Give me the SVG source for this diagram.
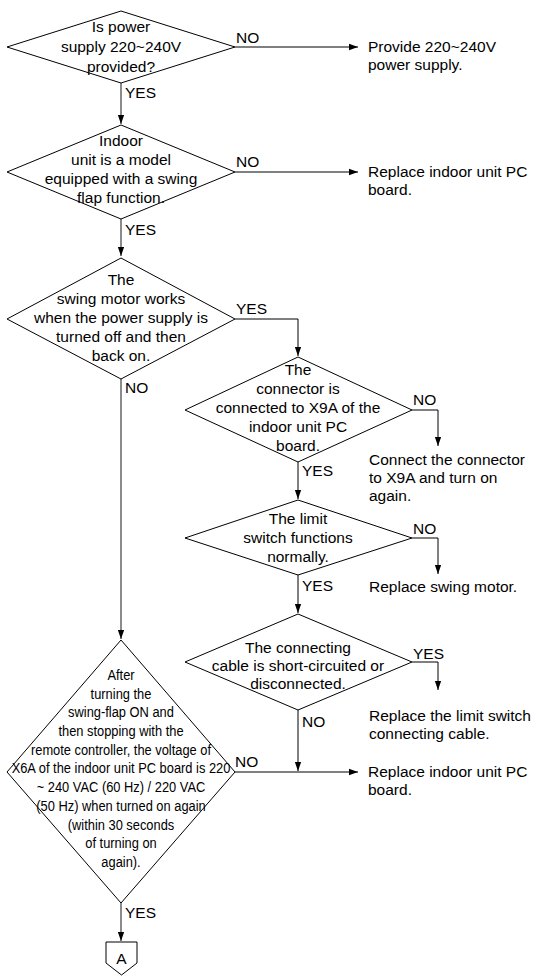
<svg xmlns="http://www.w3.org/2000/svg" width="538" height="976" viewBox="0 0 538 976">
<defs>
<marker id="ah" viewBox="0 0 10 10" refX="10" refY="5" markerWidth="9" markerHeight="9" markerUnits="userSpaceOnUse" orient="auto">
<path d="M0,1.5 L10,5 L0,8.5 Z" fill="#000"/>
</marker>
</defs>
<style>
text{font-family:"Liberation Sans",Arial,Helvetica,sans-serif;font-size:15.5px;fill:#000}
.c{text-anchor:middle}
.d{fill:#fff;stroke:#000;stroke-width:1}
.l{fill:none;stroke:#000;stroke-width:1}
.g{fill:none;stroke:#6e6e6e;stroke-width:1.6}
</style>
<rect width="538" height="976" fill="#fff"/>
<g id="connectors">
<path class="g" d="M121,83 V124" marker-end="url(#ah)"/>
<path class="l" d="M235,47 H358" marker-end="url(#ah)"/>
<path class="g" d="M121,219 V256" marker-end="url(#ah)"/>
<path class="l" d="M235,172 H358" marker-end="url(#ah)"/>
<path class="l" d="M235,319 H298 V356" marker-end="url(#ah)"/>
<path class="g" d="M121,379 V639" marker-end="url(#ah)"/>
<path class="l" d="M412,410 H438 V446" marker-end="url(#ah)"/>
<path class="l" d="M298,462 V499" marker-end="url(#ah)"/>
<path class="l" d="M412,538 H438 V574" marker-end="url(#ah)"/>
<path class="l" d="M298,575 V613" marker-end="url(#ah)"/>
<path class="l" d="M412,662 H438 V690" marker-end="url(#ah)"/>
<path class="l" d="M298,710 V771" marker-end="url(#ah)"/>
<path class="l" d="M235,772 H358" marker-end="url(#ah)"/>
<path class="g" d="M121,903 V941" marker-end="url(#ah)"/>
<text x="236" y="43">NO</text>
<text x="125" y="98">YES</text>
<text x="236" y="167">NO</text>
<text x="125" y="235">YES</text>
<text x="236" y="314">YES</text>
<text x="125" y="393">NO</text>
<text x="413" y="405">NO</text>
<text x="302" y="476">YES</text>
<text x="413" y="534">NO</text>
<text x="302" y="591">YES</text>
<text x="413" y="659">YES</text>
<text x="302" y="727">NO</text>
<text x="235" y="767">NO</text>
<text x="125" y="918">YES</text>
</g>
<g id="d1">
<polygon class="d" points="121,11 235,47 121,83 7,47"/>
<text class="c" x="121" y="32">Is power</text>
<text class="c" x="121" y="52">supply 220~240V</text>
<text class="c" x="121" y="72">provided?</text>
</g>
<g id="r1">
<text x="368" y="52">Provide 220~240V</text>
<text x="368" y="70">power supply.</text>
</g>
<g id="d2">
<polygon class="d" points="121,125 235,172 121,219 7,172"/>
<text class="c" x="121" y="146">Indoor</text>
<text class="c" x="121" y="165">unit is a model</text>
<text class="c" x="121" y="184">equipped with a swing</text>
<text class="c" x="121" y="203">flap function.</text>
</g>
<g id="r2">
<text x="368" y="177">Replace indoor unit PC</text>
<text x="368" y="195">board.</text>
</g>
<g id="d3">
<polygon class="d" points="121,258 235,319 121,379 7,319"/>
<text class="c" x="121" y="285">The</text>
<text class="c" x="121" y="304">swing motor works</text>
<text class="c" x="121" y="323">when the power supply is</text>
<text class="c" x="121" y="342">turned off and then</text>
<text class="c" x="121" y="361">back on.</text>
</g>
<g id="d4">
<polygon class="d" points="298,357 412,410 298,462 185,410"/>
<text class="c" x="298" y="375">The</text>
<text class="c" x="298" y="394">connector is</text>
<text class="c" x="298" y="413">connected to X9A of the</text>
<text class="c" x="298" y="432">indoor unit PC</text>
<text class="c" x="298" y="451">board.</text>
</g>
<g id="r4">
<text x="369" y="465">Connect the connector</text>
<text x="369" y="483">to X9A and turn on</text>
<text x="369" y="501">again.</text>
</g>
<g id="d5">
<polygon class="d" points="298,500 412,538 298,575 185,538"/>
<text class="c" x="298" y="524">The limit</text>
<text class="c" x="298" y="543">switch functions</text>
<text class="c" x="298" y="562">normally.</text>
</g>
<g id="r5">
<text x="369" y="592">Replace swing motor.</text>
</g>
<g id="d6">
<polygon class="d" points="298,614 412,662 298,710 185,662"/>
<text class="c" x="298" y="653">The connecting</text>
<text class="c" x="298" y="671">cable is short-circuited or</text>
<text class="c" x="298" y="689">disconnected.</text>
</g>
<g id="r6">
<text x="369" y="721">Replace the limit switch</text>
<text x="369" y="739">connecting cable.</text>
</g>
<g id="r7">
<text x="368" y="777">Replace indoor unit PC</text>
<text x="368" y="795">board.</text>
</g>
<g id="d7">
<polygon class="d" points="121,640 235,772 121,903 7,772"/>
<g transform="translate(121,0) scale(0.83,1)">
<text class="c" x="0" y="680">After</text>
<text class="c" x="0" y="698.7">turning the</text>
<text class="c" x="0" y="717.4">swing-flap ON and</text>
<text class="c" x="0" y="736.1">then stopping with the</text>
<text class="c" x="0" y="754.8">remote controller, the voltage of</text>
<text class="c" x="0" y="773.5">X6A of the indoor unit PC board is 220</text>
<text class="c" x="0" y="792.2">~ 240 VAC (60 Hz) / 220 VAC</text>
<text class="c" x="0" y="810.9">(50 Hz) when turned on again</text>
<text class="c" x="0" y="829.6">(within 30 seconds</text>
<text class="c" x="0" y="848.3">of turning on</text>
<text class="c" x="0" y="867">again).</text>
</g>
</g>
<g id="A">
<polygon class="d" points="106,942 137,942 137,963 121.5,975 106,963"/>
<text class="c" x="121.5" y="964">A</text>
</g>
</svg>
